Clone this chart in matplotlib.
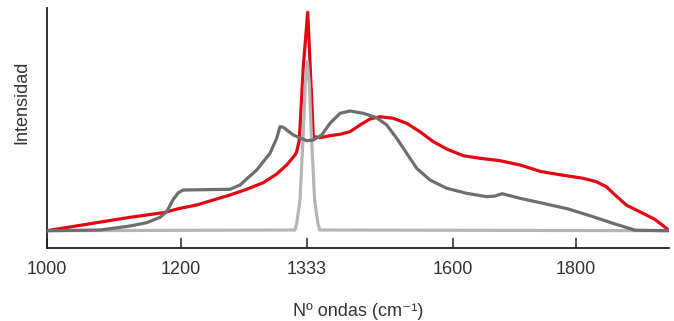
import numpy as np
import matplotlib
matplotlib.use("Agg")
import matplotlib.pyplot as plt

plt.rcParams['font.family'] = ['Liberation Sans Narrow', 'Liberation Sans', 'DejaVu Sans']

# wavenumber (cm-1) and intensity (arbitrary units)
red_x = [1000, 1123.9, 1173.6, 1198.5, 1216.6, 1234.2, 1251.9, 1269.6, 1287.2, 1301.4,
         1312, 1320.8, 1322.6, 1325.4, 1329.6, 1335.2, 1342.5, 1345.4, 1357.6, 1375.8,
         1394.1, 1412.3, 1430.5, 1448.7, 1467, 1491.2, 1515.6, 1539.8, 1564.1, 1588.5,
         1616.7, 1643.9, 1676.4, 1708.9, 1743.4, 1776.6, 1809.8, 1831.9, 1848.6, 1865,
         1881.8, 1903.9, 1926, 1942.6, 1950]
red_y = [0, 13.4, 18, 22.4, 25.7, 30.7, 35.7, 41.4, 48, 56.7,
         65.7, 75.7, 79, 90.7, 164, 218.4, 130.7, 94, 93, 95,
         96.4, 99, 105.7, 111.7, 114, 112.4, 107.4, 99, 89, 81.7,
         75, 72.4, 70, 65.7, 59.1, 55.7, 52.6, 49.2, 44.1, 34.6,
         25.4, 18.6, 11.8, 4, 0]

dark_x = [1000, 1079.1, 1123.9, 1148.8, 1168.7, 1178.7, 1188.5, 1196, 1202.4, 1251.9,
          1262.5, 1280.2, 1294.3, 1301.4, 1304.9, 1308.4, 1319, 1333.4, 1345.4, 1360.7,
          1375.8, 1394.1, 1412.3, 1436.5, 1460.9, 1479.2, 1497.4, 1515.6, 1533.8, 1558,
          1588.5, 1622.3, 1654.8, 1668.3, 1679.8, 1710.2, 1743.4, 1787.6, 1826.3, 1865,
          1895.6, 1950]
dark_y = [0, 0.7, 4.7, 8, 13.4, 19, 31.4, 38, 40.7, 41.4,
          45.7, 60.7, 77.4, 92.4, 104, 103.4, 95.7, 90, 90.7, 95.7,
          107.4, 117.4, 119.7, 117.4, 113, 105.7, 92.4, 77.4, 62.4, 50.7,
          42.4, 37.4, 34, 34.7, 37, 32.2, 27.8, 21.7, 14.2, 6.3,
          0.5, 0]

light_x = [1000, 1320.8, 1322.6, 1326.1, 1329.6, 1331.7, 1334.5, 1338.1, 1341.7,
           1347.8, 1353.8, 1356.9, 1950]
light_y = [0, 0.7, 7.4, 30.7, 97.7, 147.4, 169, 147.4, 97.7,
           30.7, 7.4, 0.7, 0]

tick_vals = [1000, 1200, 1333, 1600, 1800]
tick_labels = ["1000", "1200", "1333", "1600", "1800"]

# the original axis is not linear: anchor points of the stretched scale
anchor_wn = [1000, 1200, 1333, 1600, 1800, 1950]
anchor_pos = [47, 181, 306.5, 453, 576, 669]

def fwd(x):
    return np.interp(x, anchor_wn, anchor_pos)

def inv(p):
    return np.interp(p, anchor_pos, anchor_wn)

fig = plt.figure(figsize=(6.74, 3.21), dpi=100)
ax = fig.add_axes([47/674, 73/321, 622/674, 240/321])
ax.set_xscale('function', functions=(fwd, inv))

style = dict(lw=2.3, solid_joinstyle='round', solid_capstyle='round')
ax.plot(red_x, red_y, color='#e30613', zorder=2, **style)
ax.plot(light_x, light_y, color='#b5b5b5', zorder=3, **style)
ax.plot(dark_x, dark_y, color='#6e6e6e', zorder=4, **style)

ax.set_xlim(1000, 1950)
ax.set_ylim(-17.3, 222.7)

for s in ['top', 'right']:
    ax.spines[s].set_visible(False)
for s in ['left', 'bottom']:
    ax.spines[s].set_linewidth(1.3)
    ax.spines[s].set_color('#222222')

ax.set_xticks(tick_vals)
ax.set_xticklabels(tick_labels)
ax.set_yticks([])
ax.tick_params(axis='x', direction='in', length=7, width=1.1, color='#222222',
               labelsize=13, labelcolor='#333333', pad=9)

ax.set_xlabel("Nº ondas (cm⁻¹)", fontsize=13, color='#333333', labelpad=18)
ax.set_ylabel("Intensidad", fontsize=13, color='#333333')
ax.yaxis.set_label_coords(-0.026, 0.608)

fig.savefig("out.png", dpi=100)
